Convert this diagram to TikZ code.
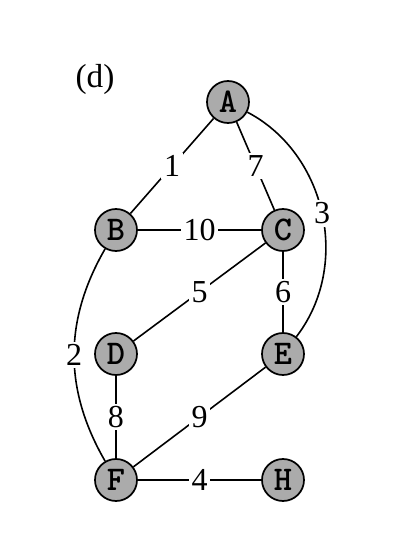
\documentclass[tikz,border=0pt]{standalone}
\usepackage{fontspec}
\setmainfont{Liberation Serif}
\tikzset{
  vertex/.style={circle,draw,line width=1.3pt,fill=black!33,minimum size=31.5pt,inner sep=0pt,font=\fontsize{26}{28}\selectfont\ttfamily\bfseries},
  weight/.style={fill=white,inner sep=2pt,font=\fontsize{24}{28}\selectfont},
  edge/.style={line width=1.2pt}
}
\begin{document}
\begin{tikzpicture}[x=0.75pt,y=0.75pt]
\useasboundingbox (0,0) rectangle (401,551);
\node[font=\fontsize{25}{28}\selectfont] (tag) at (95,472) {(d)};

\node[vertex] (A) at (228,449) {A};
\node[vertex] (B) at (116,321) {B};
\node[vertex] (C) at (283,321) {C};
\node[vertex] (D) at (116,197) {D};
\node[vertex] (E) at (283,197) {E};
\node[vertex] (F) at (116,71) {F};
\node[vertex] (H) at (283,71) {H};

\draw[edge] (A) -- node[weight] {1} (B);
\draw[edge] (A) -- node[weight] {7} (C);
\draw[edge] (A) to[bend left=50] node[weight] {3} (E);
\draw[edge] (B) -- node[weight] {10} (C);
\draw[edge] (C) -- node[weight] {5} (D);
\draw[edge] (C) -- node[weight] {6} (E);
\draw[edge] (B) to[bend right=30] node[weight] {2} (F);
\draw[edge] (D) -- node[weight] {8} (F);
\draw[edge] (E) -- node[weight] {9} (F);
\draw[edge] (F) -- node[weight] {4} (H);
\end{tikzpicture}
\end{document}
